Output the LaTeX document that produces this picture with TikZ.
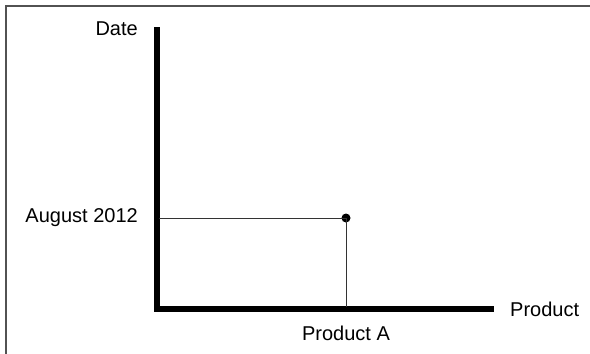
\documentclass[tikz,border=0pt]{standalone}
\usepackage{fontspec}
\setmainfont{Liberation Sans}
\begin{document}
\begin{tikzpicture}[x=1pt,y=-1pt,
  axis/.style={line width=5.5pt,line cap=butt,line join=miter},
  guide/.style={line width=1pt,draw=black!80},
  lbl/.style={font=\fontsize{20}{22}\selectfont,inner sep=0pt,text=black}]
\useasboundingbox (0,0) rectangle (590,354);
\draw[line width=2pt,draw=black!68] (6,354) -- (6,6) -- (590,6);
\coordinate (ytop) at (157,27);
\coordinate (origin) at (157,309);
\coordinate (xend) at (494,309);
\coordinate (ylev) at (159,218);
\coordinate (xfoot) at (346,307);
\draw[axis] (ytop) -- (origin) -- (xend);
\node[circle,fill=black,inner sep=0pt,minimum size=9pt] (pt) at (346,218) {};
\draw[guide] (ylev) -- (pt.center);
\draw[guide] (pt.center) -- (xfoot);
\node[lbl,anchor=east] (date) at (138,29) {Date};
\node[lbl,anchor=east] (aug) at (138,218) {August 2012};
\node[lbl,anchor=west] (prod) at (510,309) {Product};
\node[lbl] (proda) at (346,333) {Product A};
\end{tikzpicture}
\end{document}
